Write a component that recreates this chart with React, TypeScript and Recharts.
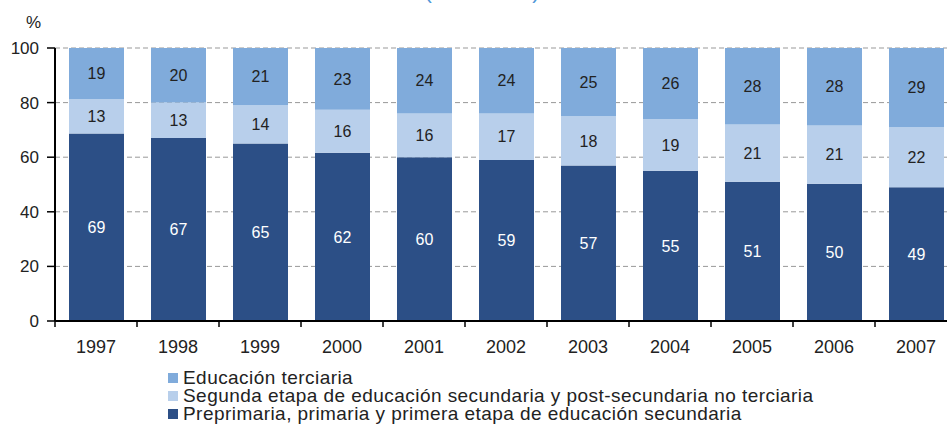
import React from "react";
import { BarChart, Bar, XAxis, YAxis, CartesianGrid, LabelList } from "recharts";

const years = ["1997", "1998", "1999", "2000", "2001", "2002", "2003", "2004", "2005", "2006", "2007"];
const preprimaria = [68.7, 67, 65, 61.6, 60, 59, 57, 55, 51, 50.3, 49];
const segunda = [12.6, 13, 14, 15.8, 16, 17, 18, 19, 21, 21.3, 22];
const terciaria = [18.7, 20, 21, 22.6, 24, 24, 25, 26, 28, 28.4, 29];
const yTicks = [0, 20, 40, 60, 80, 100];

const seriesNames = {
  pre: "Preprimaria, primaria y primera etapa de educación secundaria",
  seg: "Segunda etapa de educación secundaria y post-secundaria no terciaria",
  ter: "Educación terciaria",
};

const COLORS = { ter: "#80ABDB", seg: "#B8CFEB", pre: "#2C4F86" };
const FONT = "'Liberation Sans', Arial, sans-serif";

const data = years.map((y, i) => ({
  year: y,
  pre: preprimaria[i],
  seg: segunda[i],
  ter: terciaria[i],
}));

const legendOrder: Array<"ter" | "seg" | "pre"> = ["ter", "seg", "pre"];
const fmt = (v: any) => Math.round(Number(v));

const XTick = (props: any) => {
  const { x, y, payload } = props;
  const half = 41;
  return (
    <g>
      <line x1={x - half} y1={y} x2={x - half} y2={y + 6} stroke="#000" strokeWidth={1.5} />
      <text x={x} y={y + 32} textAnchor="middle" fontSize={18} fill="#222" fontFamily={FONT}>
        {payload.value}
      </text>
    </g>
  );
};

export default function App() {
  return (
    <div
      style={{
        position: "absolute",
        left: 0,
        top: 0,
        width: 947,
        height: 425,
        overflow: "hidden",
        background: "#fff",
        fontFamily: FONT,
      }}
    >
      <div
        style={{
          position: "absolute",
          left: 0,
          width: 964,
          textAlign: "center",
          top: -18,
          fontSize: 21,
          color: "#4F97D8",
          lineHeight: "20px",
        }}
      >
        (1997-2007)
      </div>
      <div style={{ position: "absolute", left: 26, top: 13, fontSize: 17, color: "#222" }}>%</div>
      <BarChart
        width={980}
        height={425}
        data={data}
        margin={{ top: 48, right: 23, bottom: 74, left: 8 }}
        barSize={55}
      >
        <CartesianGrid vertical={false} stroke="#999" strokeDasharray="5 3" />
        <XAxis
          dataKey="year"
          axisLine={{ stroke: "#000", strokeWidth: 2 }}
          tickLine={false}
          tickSize={0}
          tickMargin={0}
          height={30}
          interval={0}
          tick={<XTick />}
        />
        <YAxis
          width={47}
          domain={[0, 100]}
          allowDataOverflow
          ticks={yTicks}
          axisLine={{ stroke: "#000", strokeWidth: 2 }}
          tickLine={{ stroke: "#000", strokeWidth: 1.5 }}
          tickSize={8}
          tickMargin={8}
          tick={{ fontSize: 17, fill: "#222", fontFamily: FONT }}
        />
        <Bar dataKey="pre" stackId="a" fill={COLORS.pre} isAnimationActive={false}>
          <LabelList dataKey="pre" position="center" fill="#fff" fontSize={16} fontFamily={FONT} formatter={fmt} />
        </Bar>
        <Bar dataKey="seg" stackId="a" fill={COLORS.seg} isAnimationActive={false}>
          <LabelList dataKey="seg" position="center" fill="#222" fontSize={16} fontFamily={FONT} formatter={fmt} />
        </Bar>
        <Bar dataKey="ter" stackId="a" fill={COLORS.ter} isAnimationActive={false}>
          <LabelList dataKey="ter" position="center" fill="#222" fontSize={16} fontFamily={FONT} formatter={fmt} />
        </Bar>
      </BarChart>
      <div style={{ position: "absolute", left: 168, top: 369 }}>
        {legendOrder.map((k) => (
          <div key={k} style={{ display: "flex", alignItems: "center", height: 18 }}>
            <div style={{ width: 10, height: 10, background: COLORS[k], marginRight: 5, flexShrink: 0 }} />
            <span
              style={{
                fontSize: 19,
                letterSpacing: "0.45px",
                color: "#222",
                lineHeight: "18px",
                whiteSpace: "nowrap",
              }}
            >
              {seriesNames[k]}
            </span>
          </div>
        ))}
      </div>
    </div>
  );
}
